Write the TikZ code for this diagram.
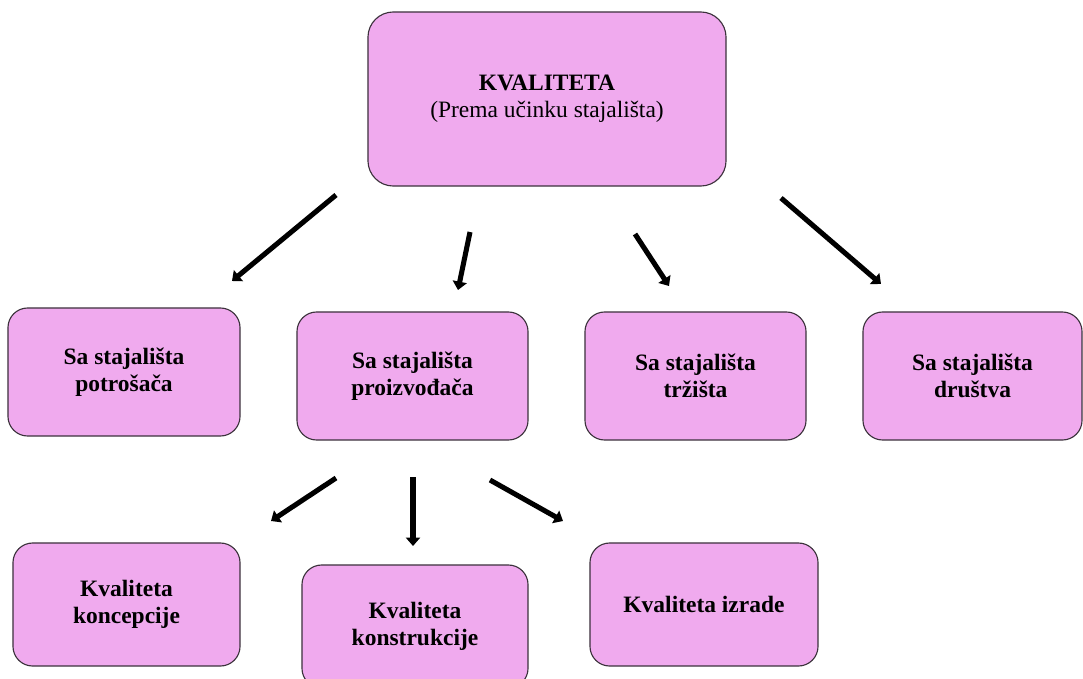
\documentclass[tikz,border=0pt]{standalone}
\usepackage{fontspec}
\setmainfont{Liberation Serif}
\usepackage{tikz}
\usetikzlibrary{arrows.meta}
\definecolor{boxfill}{RGB}{240,170,238}
\definecolor{boxline}{RGB}{60,50,60}
\tikzset{
  box/.style={draw=boxline,fill=boxfill,line width=0.8pt,rounded corners=14pt,
    align=center,inner sep=0pt,font=\fontsize{16.7}{19}\selectfont\bfseries},
  arr/.style={line width=3.6pt,-{Triangle[length=6pt,width=10pt]}}
}
\begin{document}
\begin{tikzpicture}[x=0.025cm,y=-0.025cm]
                      \useasboundingbox (0,0) rectangle (1083,678);
                      \node[box,minimum width=8.95cm,minimum height=4.35cm,rounded corners=18pt](kval)at(547,99){KVALITETA\\ \mdseries(Prema učinku stajališta)};
                      \node[box,minimum width=5.8cm,minimum height=3.2cm](potr)at(124,372){Sa stajališta\\potrošača};
                      \node[box,minimum width=5.775cm,minimum height=3.2cm](proiz)at(412.5,376){Sa stajališta\\proizvođača};
                      \node[box,minimum width=5.525cm,minimum height=3.2cm](trz)at(695.5,376){Sa stajališta\\tržišta};
                      \node[box,minimum width=5.475cm,minimum height=3.2cm](drus)at(972.5,376){Sa stajališta\\društva};
                      \node[box,minimum width=5.675cm,minimum height=3.075cm](konc)at(126.5,604.5){Kvaliteta\\koncepcije};
                      \node[box,minimum width=5.65cm,minimum height=3.075cm](konst)at(415,626.5){Kvaliteta\\konstrukcije};
                      \node[box,minimum width=5.7cm,minimum height=3.075cm](izr)at(704,604.5){Kvaliteta izrade};
                      % arrows from the top box
                      \coordinate (s1) at (336,195); \coordinate (e1) at (232,281);
                      \coordinate (s2) at (470,232); \coordinate (e2) at (458,290);
                      \coordinate (s3) at (635,234); \coordinate (e3) at (669,286);
                      \coordinate (s4) at (781,198); \coordinate (e4) at (881,284);
                      \draw[arr] (s1) -- (e1);
                      \draw[arr] (s2) -- (e2);
                      \draw[arr] (s3) -- (e3);
                      \draw[arr] (s4) -- (e4);
                      % arrows below the producer box
                      \coordinate (s5) at (336,478); \coordinate (e5) at (271,521);
                      \coordinate (s6) at (413,477); \coordinate (e6) at (413,546);
                      \coordinate (s7) at (490,480); \coordinate (e7) at (563,521);
                      \draw[arr] (s5) -- (e5);
                      \draw[arr] (s6) -- (e6);
                      \draw[arr] (s7) -- (e7);
                  \end{tikzpicture}
\end{document}
